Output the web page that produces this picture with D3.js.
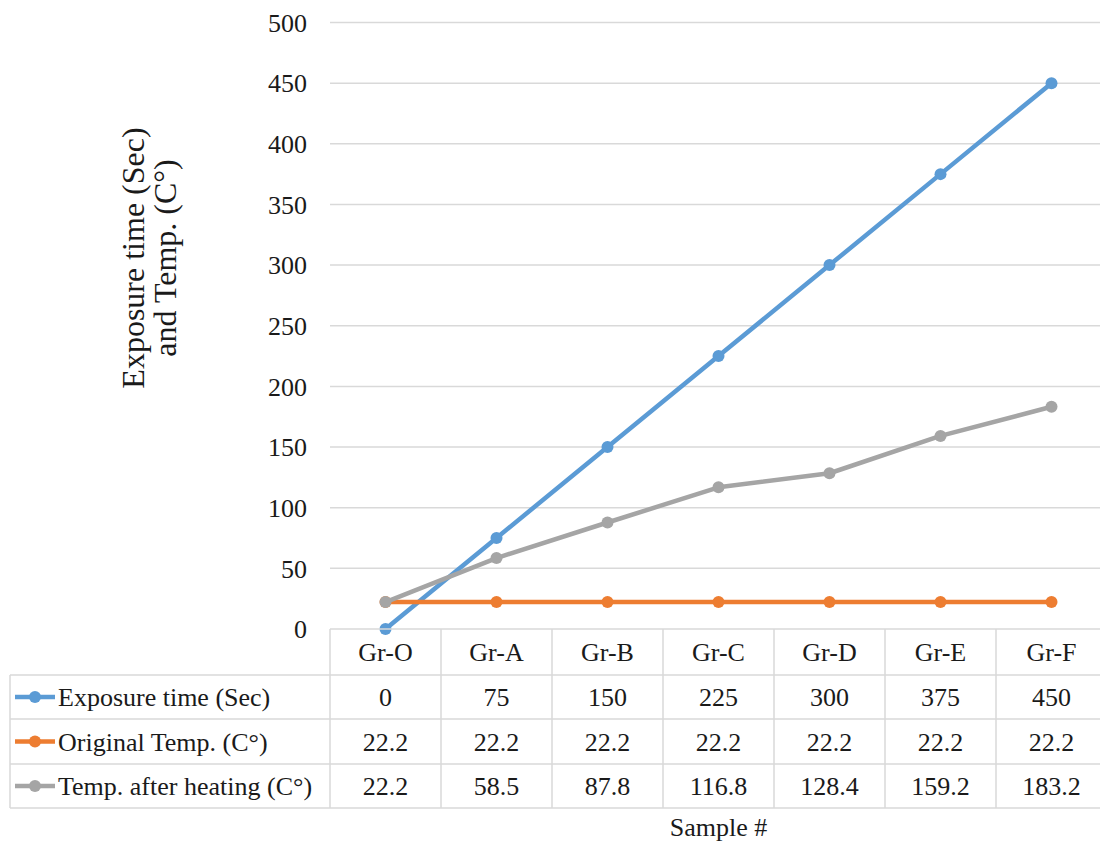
<!DOCTYPE html>
<html>
<head>
<meta charset="utf-8">
<script src="https://cdn.jsdelivr.net/npm/d3@7"></script>
<style>
  html, body { margin: 0; padding: 0; background: #ffffff; }
  svg { display: block; }
  svg text { font-family: "Liberation Serif", "DejaVu Serif", serif !important; fill: #1a1a1a; }
</style>
</head>
<body>
<svg id="chart" width="1100" height="842" style="font-family: 'Liberation Serif', serif;"></svg>
<script>
// Samples and measured values
const categories = ["Gr-O", "Gr-A", "Gr-B", "Gr-C", "Gr-D", "Gr-E", "Gr-F"];
const exposureTime = [0, 75, 150, 225, 300, 375, 450];
const originalTemp = [22.2, 22.2, 22.2, 22.2, 22.2, 22.2, 22.2];
const heatedTemp = [22.2, 58.5, 87.8, 116.8, 128.4, 159.2, 183.2];
const seriesNames = ["Exposure time (Sec)", "Original Temp. (C°)", "Temp. after heating (C°)"];
const yTicks = [0, 50, 100, 150, 200, 250, 300, 350, 400, 450, 500];

const series = [
  { name: seriesNames[0], values: exposureTime, color: "#5b9bd5" },
  { name: seriesNames[1], values: originalTemp, color: "#ed7d31" },
  { name: seriesNames[2], values: heatedTemp, color: "#a5a5a5" }
];

const FONT = "Liberation Serif, serif";
const svg = d3.select("#chart");
const plotLeft = 330, plotRight = 1107, plotTop = 22.5, plotBottom = 629;
const gridColor = "#d9d9d9";

const x = d3.scaleBand().domain(categories).range([plotLeft, plotRight]);
const y = d3.scaleLinear().domain([0, 500]).range([plotBottom, plotTop]);

// Horizontal gridlines
svg.append("g")
  .selectAll("line")
  .data(yTicks.filter(t => t > 0))
  .join("line")
  .attr("x1", plotLeft).attr("x2", plotRight)
  .attr("y1", d => y(d)).attr("y2", d => y(d))
  .attr("stroke", gridColor).attr("stroke-width", 1.5);

// Y axis labels
const yAxis = d3.axisLeft(y).tickValues(yTicks).tickSize(0).tickPadding(0);
svg.append("g")
  .attr("transform", `translate(307,0)`)
  .call(yAxis)
  .attr("font-family", FONT)
  .attr("font-size", 26)
  .call(g => g.select(".domain").remove())
  .call(g => g.selectAll("text")
    .attr("fill", "#1a1a1a")
    .attr("dy", "0.34em"));

// Y axis title
const title = svg.append("text")
  .attr("transform", "translate(148,258) rotate(-90)")
  .attr("text-anchor", "middle")
  .attr("font-family", FONT)
  .attr("font-size", 32);
title.append("tspan").attr("x", 0).attr("dy", "-0.12em").text("Exposure time (Sec)");
title.append("tspan").attr("x", 0).attr("dy", "0.98em").text("and Temp. (C°)");

// Series lines and markers
const cx = (d, i) => x(categories[i]) + x.bandwidth() / 2;
const line = d3.line().x(cx).y(d => y(d));
series.forEach(s => {
  svg.append("path")
    .datum(s.values)
    .attr("d", line)
    .attr("fill", "none")
    .attr("stroke", s.color)
    .attr("stroke-width", 4.5)
    .attr("stroke-linejoin", "round");
  svg.append("g")
    .selectAll("circle")
    .data(s.values)
    .join("circle")
    .attr("cx", cx)
    .attr("cy", d => y(d))
    .attr("r", 6)
    .attr("fill", s.color);
});

// Data table below the plot
const rowEdges = [629, 675, 719, 764, 808];
const tableLeft = 10;
const tg = svg.append("g").attr("stroke", gridColor).attr("stroke-width", 1.5);
tg.append("line").attr("x1", plotLeft).attr("x2", plotRight).attr("y1", rowEdges[0]).attr("y2", rowEdges[0]);
rowEdges.slice(1).forEach(r => {
  tg.append("line").attr("x1", tableLeft).attr("x2", plotRight).attr("y1", r).attr("y2", r);
});
tg.append("line").attr("x1", tableLeft).attr("x2", tableLeft).attr("y1", rowEdges[1]).attr("y2", rowEdges[4]);
categories.forEach(c => {
  tg.append("line").attr("x1", x(c)).attr("x2", x(c)).attr("y1", rowEdges[0]).attr("y2", rowEdges[4]);
});
tg.append("line").attr("x1", plotRight).attr("x2", plotRight).attr("y1", rowEdges[0]).attr("y2", rowEdges[4]);

const rowMid = i => (rowEdges[i] + rowEdges[i + 1]) / 2;

// category labels
svg.append("g").selectAll("text")
  .data(categories)
  .join("text")
  .attr("x", d => x(d) + x.bandwidth() / 2)
  .attr("y", rowMid(0))
  .attr("dy", "0.35em")
  .attr("text-anchor", "middle")
  .attr("font-family", FONT)
  .attr("font-size", 26)
  .text(d => d);

// series rows: legend key, name, values
series.forEach((s, si) => {
  const ym = rowMid(si + 1);
  svg.append("line")
    .attr("x1", 15).attr("x2", 55).attr("y1", ym).attr("y2", ym)
    .attr("stroke", s.color).attr("stroke-width", 4.5);
  svg.append("circle").attr("cx", 35).attr("cy", ym).attr("r", 6).attr("fill", s.color);
  svg.append("text")
    .attr("x", 58).attr("y", ym).attr("dy", "0.35em")
    .attr("font-family", FONT)
    .attr("font-size", 26)
    .text(s.name);
  svg.append("g").selectAll("text")
    .data(s.values)
    .join("text")
    .attr("x", cx)
    .attr("y", ym)
    .attr("dy", "0.35em")
    .attr("text-anchor", "middle")
    .attr("font-family", FONT)
    .attr("font-size", 26)
    .text(d => String(d));
});

// X axis title
svg.append("text")
  .attr("x", (plotLeft + plotRight) / 2)
  .attr("y", 827)
  .attr("dy", "0.35em")
  .attr("text-anchor", "middle")
  .attr("font-family", FONT)
  .attr("font-size", 26)
  .text("Sample #");
</script>
</body>
</html>
